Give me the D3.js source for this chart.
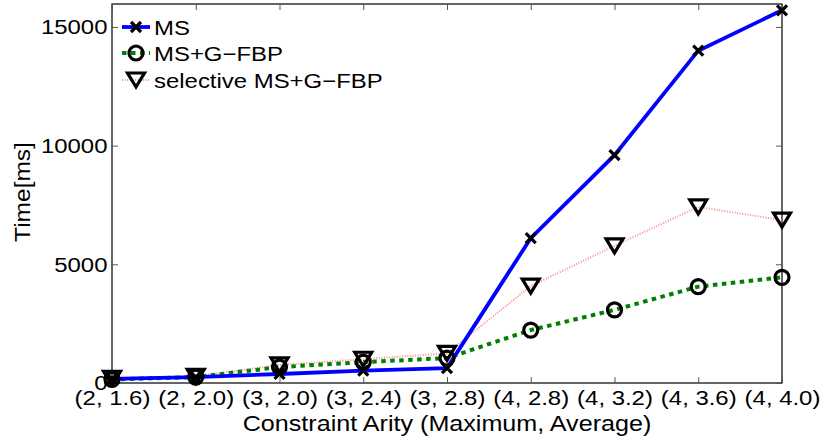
<!DOCTYPE html>
<html><head><meta charset="utf-8">
<script src="https://cdn.jsdelivr.net/npm/d3@7"></script>
<style>body{margin:0;background:#fff}text{font-family:"Liberation Sans",Arial,sans-serif}</style>
</head><body><svg id="c" width="823" height="440"></svg>
<script>
const categories = ["(2, 1.6)","(2, 2.0)","(3, 2.0)","(3, 2.4)","(3, 2.8)","(4, 2.8)","(4, 3.2)","(4, 3.6)","(4, 4.0)"];
const msValues = [170, 250, 380, 520, 630, 6100, 9600, 14000, 15700];
const gfbpValues = [150, 250, 670, 880, 1050, 2230, 3080, 4060, 4450];
const selValues = [200, 280, 760, 1000, 1250, 4080, 5780, 7420, 6860];
const yTicks = [0, 5000, 10000, 15000];
const seriesNames = ["MS", "MS+G\u2212FBP", "selective MS+G\u2212FBP"];

const svg = d3.select("#c");
const L = 112, R = 782, T = 4, B = 383;
const x = d3.scalePoint().domain(d3.range(categories.length)).range([L, R]);
const y = d3.scaleLinear().domain([0, 15966]).range([B, T]);
const fs = 21, sx = 1.14;
const FF = "Liberation Sans, Arial, sans-serif";

svg.append("rect").attr("x", L).attr("y", T).attr("width", R-L).attr("height", B-T)
  .attr("fill", "none").attr("stroke", "#000").attr("stroke-width", 1.2);

const ax = d3.axisBottom(x).tickSize(-6).tickFormat(i => categories[i]).tickPadding(7);
const gx = svg.append("g").attr("transform", `translate(0,${B})`).call(ax);
gx.select(".domain").remove();
gx.selectAll("line").attr("stroke", "#555");
gx.selectAll("text").attr("font-size", fs).attr("fill", "#000").attr("font-family", FF)
  .attr("transform", `scale(${sx},1)`);
const gxt = svg.append("g").attr("transform", `translate(0,${T})`).call(d3.axisTop(x).tickSize(-6).tickFormat(""));
gxt.select(".domain").remove(); gxt.selectAll("line").attr("stroke", "#555");

const ay = d3.axisLeft(y).tickValues(yTicks).tickSize(-6).tickPadding(4).tickFormat(d3.format("d"));
const gy = svg.append("g").attr("transform", `translate(${L},0)`).call(ay);
gy.select(".domain").remove(); gy.selectAll("line").attr("stroke", "#555");
gy.selectAll("text").attr("font-size", fs).attr("fill", "#000").attr("font-family", FF)
  .attr("transform", `scale(${sx},1)`);
const gyr = svg.append("g").attr("transform", `translate(${R},0)`).call(d3.axisRight(y).tickValues(yTicks).tickSize(-6).tickFormat(""));
gyr.select(".domain").remove(); gyr.selectAll("line").attr("stroke", "#555");

svg.append("text").attr("transform", `translate(447,431) scale(1.18,1)`).attr("text-anchor", "middle").attr("font-size", 21.3).text("Constraint Arity (Maximum, Average)");
svg.append("text").attr("transform", `translate(30,192) rotate(-90) scale(${sx},1)`).attr("text-anchor", "middle").attr("font-size", 21.5).text("Time[ms]");

const line = d3.line().x((d, i) => x(i)).y(d => y(d));
const styles = [
  {vals: msValues, color: "#0000ff", w: 3.8, dash: null, marker: "x"},
  {vals: gfbpValues, color: "#008000", w: 4, dash: "4.5,4.5", marker: "o"},
  {vals: selValues, color: "#ff8a8a", w: 2, dash: "1,1.6", marker: "v"}
];
const plot = svg.append("g");
[2, 1, 0].forEach(k => {
  const s = styles[k];
  plot.append("path").datum(s.vals).attr("d", line).attr("fill", "none")
    .attr("stroke", s.color).attr("stroke-width", s.w).attr("stroke-dasharray", s.dash);
});
function marker(g, type, cx, cy) {
  if (type === "x") {
    const r = 5;
    g.append("path").attr("d", `M${cx-r},${cy-r}L${cx+r},${cy+r}M${cx-r},${cy+r}L${cx+r},${cy-r}`)
      .attr("stroke", "#000").attr("stroke-width", 3.2).attr("fill", "none");
  } else if (type === "o") {
    g.append("circle").attr("cx", cx).attr("cy", cy).attr("r", 7)
      .attr("stroke", "#000").attr("stroke-width", 3.2).attr("fill", "none");
  } else {
    const w = 8.5, h = 7;
    g.append("path").attr("d", `M${cx-w},${cy-h}L${cx+w},${cy-h}L${cx},${cy+h}Z`)
      .attr("stroke", "#000").attr("stroke-width", 3.2).attr("fill", "none");
  }
}
[0, 1, 2].forEach(k => {
  const s = styles[k];
  s.vals.forEach((v, i) => marker(plot, s.marker, x(i), y(v)));
});

const lg = svg.append("g");
const ly = [27, 53, 80];
styles.forEach((s, k) => {
  lg.append("line").attr("x1", 122).attr("x2", 150).attr("y1", ly[k]).attr("y2", ly[k])
    .attr("stroke", s.color).attr("stroke-width", s.w).attr("stroke-dasharray", s.dash);
  marker(lg, s.marker, 136, ly[k]);
  lg.append("text").attr("transform", `translate(154,${ly[k]}) scale(${sx},1)`).attr("dy", "0.36em").attr("font-size", fs).text(seriesNames[k]);
});
</script></body></html>
